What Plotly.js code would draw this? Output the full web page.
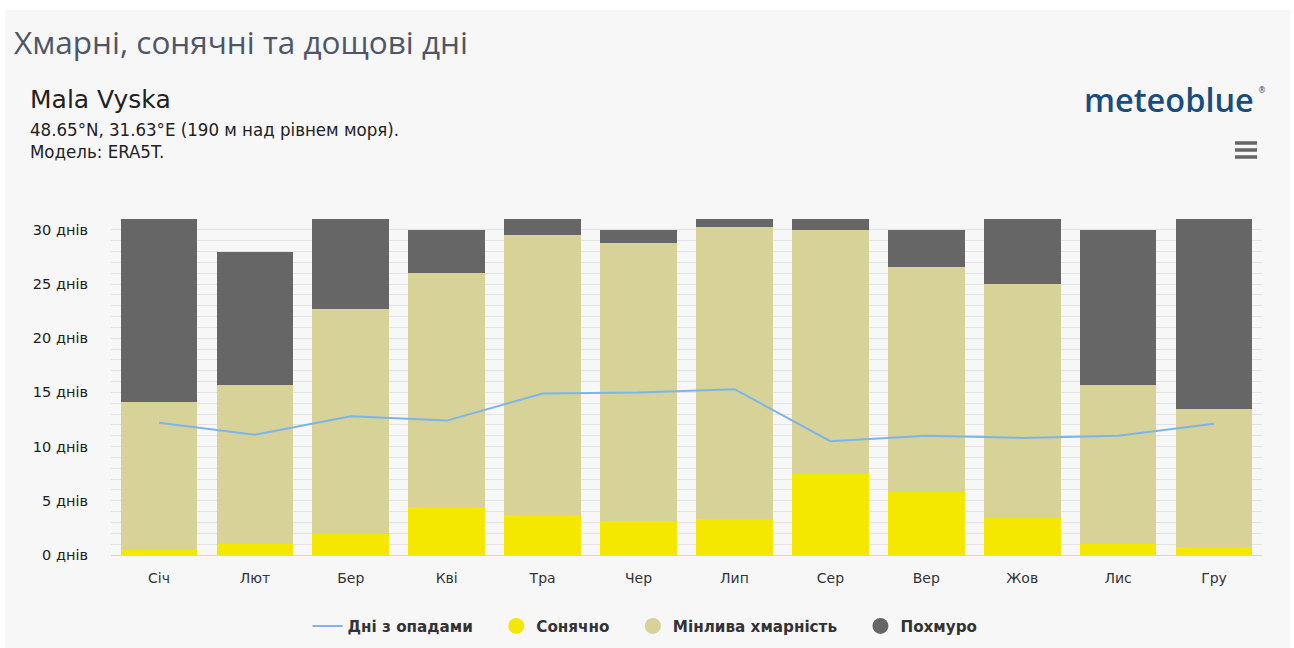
<!DOCTYPE html>
<html>
<head>
<meta charset="utf-8">
<script src="https://cdn.plot.ly/plotly-3.0.1.min.js"></script>
<style>
html,body{margin:0;padding:0;background:#ffffff;}
#chart{width:1294px;height:648px;}
</style>
</head>
<body>
<div id="chart"></div>
<script>
const months = ["Січ","Лют","Бер","Кві","Тра","Чер","Лип","Сер","Вер","Жов","Лис","Гру"];
const sunny = [0.5, 1.0, 1.9, 4.4, 3.7, 3.1, 3.3, 7.5, 5.8, 3.4, 1.0, 0.7];
const partlyCloudy = [13.6, 14.7, 20.8, 21.6, 25.8, 25.7, 27.0, 22.5, 20.8, 21.6, 14.7, 12.8];
const overcast = [16.9, 12.3, 8.3, 4.0, 1.5, 1.2, 0.7, 1.0, 3.4, 6.0, 14.3, 17.5];
const precipDays = [12.2, 11.1, 12.8, 12.4, 14.9, 15.0, 15.3, 10.5, 11.0, 10.8, 11.0, 12.1];
const yTicks = [0, 5, 10, 15, 20, 25, 30];
const yTickText = yTicks.map(v => v + " днів");
const seriesNames = ["Дні з опадами", "Сонячно", "Мінлива хмарність", "Похмуро"];
const colors = {precip:"#7cb5ec", sunny:"#f5e800", partly:"#d7d297", overcast:"#666666"};

// plot area in pixels
const L = 111, R = 1262, T = 219, B = 555;
const px = x => (x - L) / (R - L);
const py = y => (B - y) / (B - T);
const pad = "\u00a0\u00a0\u00a0\u2006";

const traces = [
  {type:"bar", x:months, y:sunny, name:seriesNames[1], marker:{color:colors.sunny}, showlegend:false, hoverinfo:"y+name"},
  {type:"bar", x:months, y:partlyCloudy, name:seriesNames[2], marker:{color:colors.partly}, showlegend:false, hoverinfo:"y+name"},
  {type:"bar", x:months, y:overcast, name:seriesNames[3], marker:{color:colors.overcast}, showlegend:false, hoverinfo:"y+name"},
  {type:"scatter", mode:"lines", x:months, y:precipDays, name:seriesNames[0] + pad, line:{color:colors.precip, width:2}, legendrank:1},
  {type:"scatter", mode:"markers", x:[null], y:[null], name:seriesNames[1] + pad, marker:{color:colors.sunny, size:16, symbol:"circle"}, legendrank:2},
  {type:"scatter", mode:"markers", x:[null], y:[null], name:seriesNames[2] + pad, marker:{color:colors.partly, size:16, symbol:"circle"}, legendrank:3},
  {type:"scatter", mode:"markers", x:[null], y:[null], name:seriesNames[3], marker:{color:colors.overcast, size:16, symbol:"circle"}, legendrank:4}
];

const hamburger = [143, 150, 157].map(y => ({
  type:"line", xref:"paper", yref:"paper",
  x0:px(1235), x1:px(1257), y0:py(y), y1:py(y),
  line:{color:"#666666", width:3.5}, layer:"above"
}));

const layout = {
  width:1294, height:648,
  margin:{l:L, r:1294-R, t:T, b:648-B, pad:0, autoexpand:false},
  paper_bgcolor:"#ffffff",
  plot_bgcolor:"rgba(0,0,0,0)",
  barmode:"stack",
  bargap:0.2,
  font:{family:"DejaVu Sans, sans-serif", color:"#333333", size:13},
  showlegend:true,
  legend:{orientation:"h", x:px(645), xanchor:"center", y:py(626), yanchor:"middle",
          font:{family:"DejaVu Sans, sans-serif", size:15.2, color:"#333333", weight:"bold"},
          bgcolor:"rgba(0,0,0,0)", itemwidth:30, traceorder:"normal"},
  xaxis:{type:"category", showgrid:false, showline:true, linecolor:"#ccd6eb", linewidth:1,
         ticks:"", tickfont:{size:14, color:"#333333"}, ticklabelstandoff:10, fixedrange:true, automargin:false},
  yaxis:{range:[0,31], tickvals:yTicks, ticktext:yTickText, showgrid:true, gridcolor:"#e3e3e3", gridwidth:1,
         minor:{dtick:1, tick0:0, showgrid:true, gridcolor:"#e3e3e3", gridwidth:1},
         zeroline:false, showline:false, ticks:"", ticklabelstandoff:22,
         tickfont:{size:14.5, color:"#222222"}, fixedrange:true, automargin:false},
  shapes:[
    {type:"rect", xref:"paper", yref:"paper", x0:px(5), x1:px(1290), y0:py(660), y1:py(10),
     fillcolor:"#f7f7f7", line:{width:0}, layer:"below"}
  ].concat(hamburger),
  annotations:[
    {text:"Хмарні, сонячні та дощові дні", xref:"paper", yref:"paper", x:px(12), y:py(41),
     xanchor:"left", yanchor:"middle", showarrow:false,
     font:{family:"Open Sans, sans-serif", size:31.5, color:"#4f5666"}},
    {text:"Mala Vyska", xref:"paper", yref:"paper", x:px(28), y:py(100),
     xanchor:"left", yanchor:"middle", showarrow:false,
     font:{family:"DejaVu Sans, sans-serif", size:25, color:"#222222"}},
    {text:"48.65°N, 31.63°E (190 м над рівнем моря).", xref:"paper", yref:"paper", x:px(28), y:py(129),
     xanchor:"left", yanchor:"middle", showarrow:false,
     font:{family:"DejaVu Sans Condensed, DejaVu Sans, sans-serif", size:18.5, color:"#222222"}},
    {text:"Модель: ERA5T.", xref:"paper", yref:"paper", x:px(28), y:py(151),
     xanchor:"left", yanchor:"middle", showarrow:false,
     font:{family:"DejaVu Sans Condensed, DejaVu Sans, sans-serif", size:18.5, color:"#222222"}},
    {text:"meteoblue", xref:"paper", yref:"paper", x:px(1256), y:py(100),
     xanchor:"right", yanchor:"middle", showarrow:false,
     font:{family:"Open Sans, sans-serif", size:32.5, color:"#184d7e", weight:600}},
    {text:"®", xref:"paper", yref:"paper", x:px(1256), y:py(90),
     xanchor:"left", yanchor:"middle", showarrow:false,
     font:{family:"DejaVu Sans, sans-serif", size:8, color:"#184d7e"}}
  ]
};

Plotly.newPlot("chart", traces, layout, {displayModeBar:false, responsive:false});
</script>
</body>
</html>
